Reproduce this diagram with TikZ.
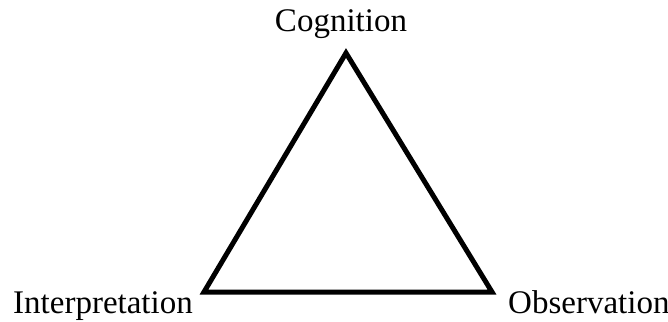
\documentclass[tikz,border=0pt]{standalone}
\usepackage{fontspec}
\setmainfont{Liberation Serif}
\usepackage{tikz}
\usetikzlibrary{positioning}

\begin{document}
\begin{tikzpicture}[x=1pt,y=-1pt,
  lbl/.style={inner sep=0pt,font=\fontsize{33}{39}\selectfont},
  side/.style={draw=black,line width=5pt,line join=miter}]
\useasboundingbox (0,0) rectangle (668,321);
\coordinate (top) at (346,53);
\coordinate (left) at (204,292);
\coordinate (right) at (492,292);
\draw[side] (top) -- (left) -- (right) -- cycle;
\node[lbl,anchor=base] (cog) at (341,31) {Cognition};
\node[lbl,anchor=base east] (int) at (193,313) {Interpretation};
\node[lbl,anchor=base west] (obs) at (508,313) {Observation};
\end{tikzpicture}
\end{document}
